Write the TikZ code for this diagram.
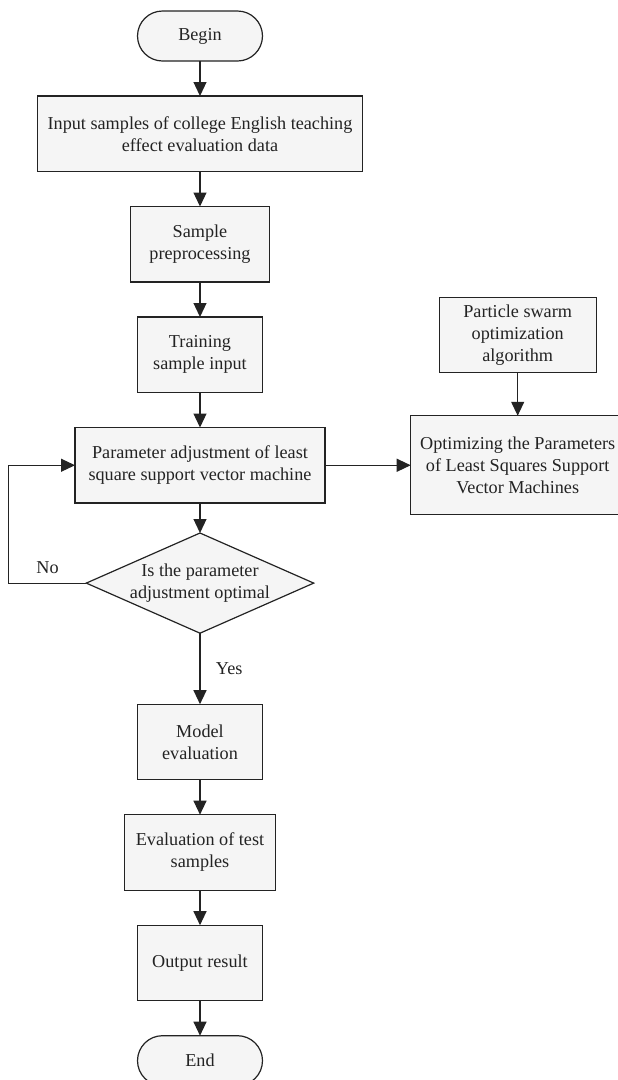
\documentclass[tikz,border=0pt]{standalone}
\usepackage{fontspec}
\setmainfont{Liberation Serif}
\usetikzlibrary{arrows.meta,positioning,shapes.geometric}
\definecolor{boxgray}{RGB}{245,245,245}
\definecolor{linegray}{RGB}{35,35,35}

\begin{document}
\begin{tikzpicture}[
  x=1pt, y=1pt,
  node distance=35pt and 85pt,
  box/.style={draw=linegray, fill=boxgray, line width=1.2pt, align=center, inner sep=3pt, outer sep=0pt,
    minimum height=75.5pt, text=linegray, font=\fontsize{18.2}{22}\selectfont},
  term/.style={box, rounded corners=25pt, minimum width=125pt, minimum height=50pt},
  query/.style={box, diamond, aspect=2.27, inner sep=0pt, minimum width=225pt, minimum height=99pt},
  lbl/.style={text=linegray, font=\fontsize{18.2}{22}\selectfont},
  arr/.style={-{Triangle[length=14pt, width=13pt]}, draw=linegray, line width=1.2pt},
]
\useasboundingbox (0,0) rectangle (618,-1080);
\node[term] (begin) at (200,-36) {Begin};
\node[box, below=of begin, minimum width=325pt] (input) {Input samples of college English teaching\\effect evaluation data};
\node[box, below=of input, minimum width=139pt] (prep) {Sample\\preprocessing};
\node[box, below=of prep, minimum width=125pt] (train) {Training\\sample input};
\node[box, below=of train, minimum width=250pt] (param) {Parameter adjustment of least\\square support vector machine};
\node[box, right=85.7pt of param, minimum width=214pt, minimum height=99pt] (optim) {Optimizing the Parameters\\of Least Squares Support\\Vector Machines};
\node[box, above=43pt of optim, minimum width=157pt] (pso) {Particle swarm\\optimization\\algorithm};
\node[query, below=30pt of param] (check) {Is the parameter\\adjustment optimal};
\node[box, below=71pt of check, minimum width=125pt] (model) {Model\\evaluation};
\node[box, below=of model, minimum width=151pt] (test) {Evaluation of test\\samples};
\node[box, below=of test, minimum width=125pt] (output) {Output result};
\node[term, below=of output] (end) {End};
\draw[arr] (begin) -- (input);
\draw[arr] (input) -- (prep);
\draw[arr] (prep) -- (train);
\draw[arr] (train) -- (param);
\draw[arr] (param) -- (check);
\draw[arr] (param) -- (optim);
\draw[arr] (pso) -- (optim);
\draw[arr] (check.west) -- node[lbl, above=5pt] (no) {No} ++(-77.5,0) |- (param.west);
\draw[arr] (check) -- node[lbl, right=12pt] (yes) {Yes} (model);
\draw[arr] (model) -- (test);
\draw[arr] (test) -- (output);
\draw[arr] (output) -- (end);
\end{tikzpicture}
\end{document}
